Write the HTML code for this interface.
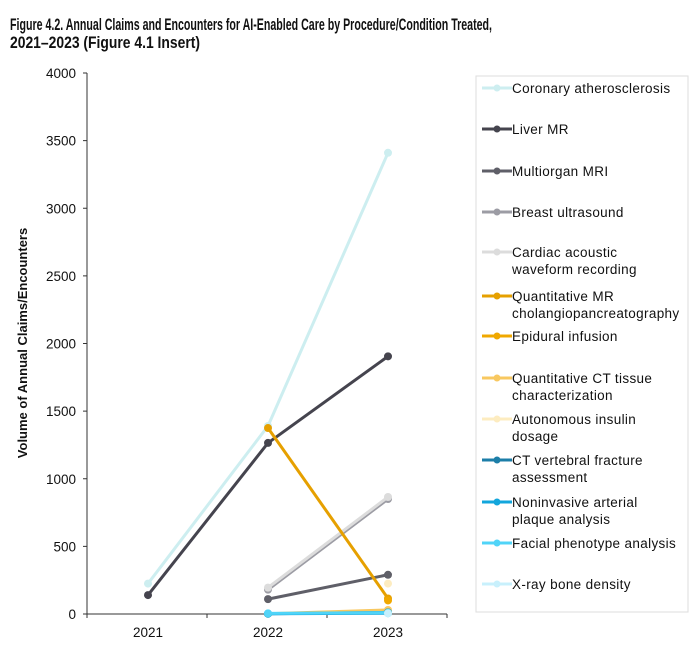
<!DOCTYPE html>
<html><head><meta charset="utf-8"><style>
body{margin:0;background:#fff;}
svg{display:block;font-family:"Liberation Sans",sans-serif;}
</style></head><body>
<svg id="chart" width="700" height="649">
<text x="10" y="30" font-family="Liberation Sans, sans-serif" font-weight="bold" font-size="17" textLength="482" lengthAdjust="spacingAndGlyphs" fill="#111">Figure 4.2. Annual Claims and Encounters for AI-Enabled Care by Procedure/Condition Treated,</text>
<text x="10" y="48" font-family="Liberation Sans, sans-serif" font-weight="bold" font-size="17" textLength="190" lengthAdjust="spacingAndGlyphs" fill="#111">2021–2023 (Figure 4.1 Insert)</text>
<text transform="translate(27,343) rotate(-90)" text-anchor="middle" font-size="13" font-weight="bold" fill="#111">Volume of Annual Claims/Encounters</text>
<g id="axes"></g>
<g id="series"></g>
<rect x="476" y="76" width="212" height="536" fill="none" stroke="#ddd" stroke-width="1"/>
<g id="legend"></g>
</svg>
<script>
const years = ["2021","2022","2023"];
const yTicks = [0,500,1000,1500,2000,2500,3000,3500,4000];
const names = ["Coronary atherosclerosis","Liver MR","Multiorgan MRI","Breast ultrasound","Cardiac acoustic waveform recording","Quantitative MR cholangiopancreatography","Epidural infusion","Quantitative CT tissue characterization","Autonomous insulin dosage","CT vertebral fracture assessment","Noninvasive arterial plaque analysis","Facial phenotype analysis","X-ray bone density"];
const legendLines = [["Coronary atherosclerosis"],["Liver MR"],["Multiorgan MRI"],["Breast ultrasound"],["Cardiac acoustic","waveform recording"],["Quantitative MR","cholangiopancreatography"],["Epidural infusion"],["Quantitative CT tissue","characterization"],["Autonomous insulin","dosage"],["CT vertebral fracture","assessment"],["Noninvasive arterial","plaque analysis"],["Facial phenotype analysis"],["X-ray bone density"]];
const colors = ["#cdeef0","#45444e","#5f5f68","#9c9ca4","#dcdcdc","#e6a000","#f0a800","#f8c860","#fdecc0","#1c7ea8","#12a6dc","#50d4f8","#c8f0fc"];
const coronary = [225,1390,3410];
const liverMR = [140,1265,1905];
const multiorgan = [null,110,290];
const breast = [null,180,850];
const cardiac = [null,195,865];
const qmrcp = [null,1375,115];
const epidural = [null,null,100];
const qct = [null,2,30];
const insulin = [null,null,225];
const ctVert = [null,2,12];
const noninv = [null,2,6];
const facial = [null,5,10];
const xray = [null,null,5];
const seriesData = [coronary,liverMR,multiorgan,breast,cardiac,qmrcp,epidural,qct,insulin,ctVert,noninv,facial,xray];

const NS="http://www.w3.org/2000/svg";
const x0=87,x1=447,yB=614,yT=73;
const xs=i=>148+i*120;
const ys=v=>yB-(v/4000)*(yB-yT);
function mk(tag,attrs,parent){const e=document.createElementNS(NS,tag);for(const k in attrs)e.setAttribute(k,attrs[k]);parent.appendChild(e);return e;}
const axes=document.getElementById('axes');
let l=mk('line',{x1:x0,y1:yT,x2:x0,y2:yB,stroke:'#333','stroke-width':1},axes);


l=mk('line',{x1:x0,y1:yB,x2:x1,y2:yB,stroke:'#333','stroke-width':1},axes);


yTicks.forEach(t=>{
  const tk=mk('line',{x1:x0-4,y1:ys(t),x2:x0,y2:ys(t),stroke:'#333'},axes);
  
  
  const tx=mk('text',{x:x0-11,y:ys(t)+5,'text-anchor':'end','font-size':13.5,fill:'#111'},axes);
  tx.textContent=t;
  
  
});
for(let i=0;i<=years.length;i++){
  const xx=x0+i*120;
  const tk=mk('line',{x1:xx,y1:yB,x2:xx,y2:yB+4,stroke:'#333'},axes);
  
  
}
years.forEach((y,i)=>{
  const tx=mk('text',{x:xs(i),y:637,'text-anchor':'middle','font-size':13.5,fill:'#111'},axes);
  tx.textContent=y;
  
  
});
const sg=document.getElementById('series');
seriesData.forEach((d,s)=>{
  const g=mk('g',{},sg);
  
  
  const pts=[];d.forEach((v,i)=>{if(v!==null)pts.push([xs(i),ys(v)]);});
  if(pts.length>1){
    const p=mk('polyline',{points:pts.map(p=>p.join(',')).join(' '),fill:'none',stroke:colors[s],'stroke-width':3,'stroke-linejoin':'round'},g);
    
    
  }
  pts.forEach(p=>{
    const c=mk('circle',{cx:p[0],cy:p[1],r:4,fill:colors[s]},g);
    
    
  });
});
const lg=document.getElementById('legend');
const rowY=[88,129,171,212,252,296,336,378,419,460,502,543,584];
legendLines.forEach((lines,s)=>{
  const g=mk('g',{},lg);
  
  
  const y=rowY[s];
  mk('line',{x1:482,y1:y,x2:512,y2:y,stroke:colors[s],'stroke-width':3},g);
  mk('circle',{cx:497,cy:y,r:3.5,fill:colors[s]},g);
  lines.forEach((t,k)=>{
    const tx=mk('text',{x:512,y:y+5+k*17,'font-size':13.5,'letter-spacing':0.35,fill:'#111'},g);
    tx.textContent=t;
  });
});
</script>
</body></html>
